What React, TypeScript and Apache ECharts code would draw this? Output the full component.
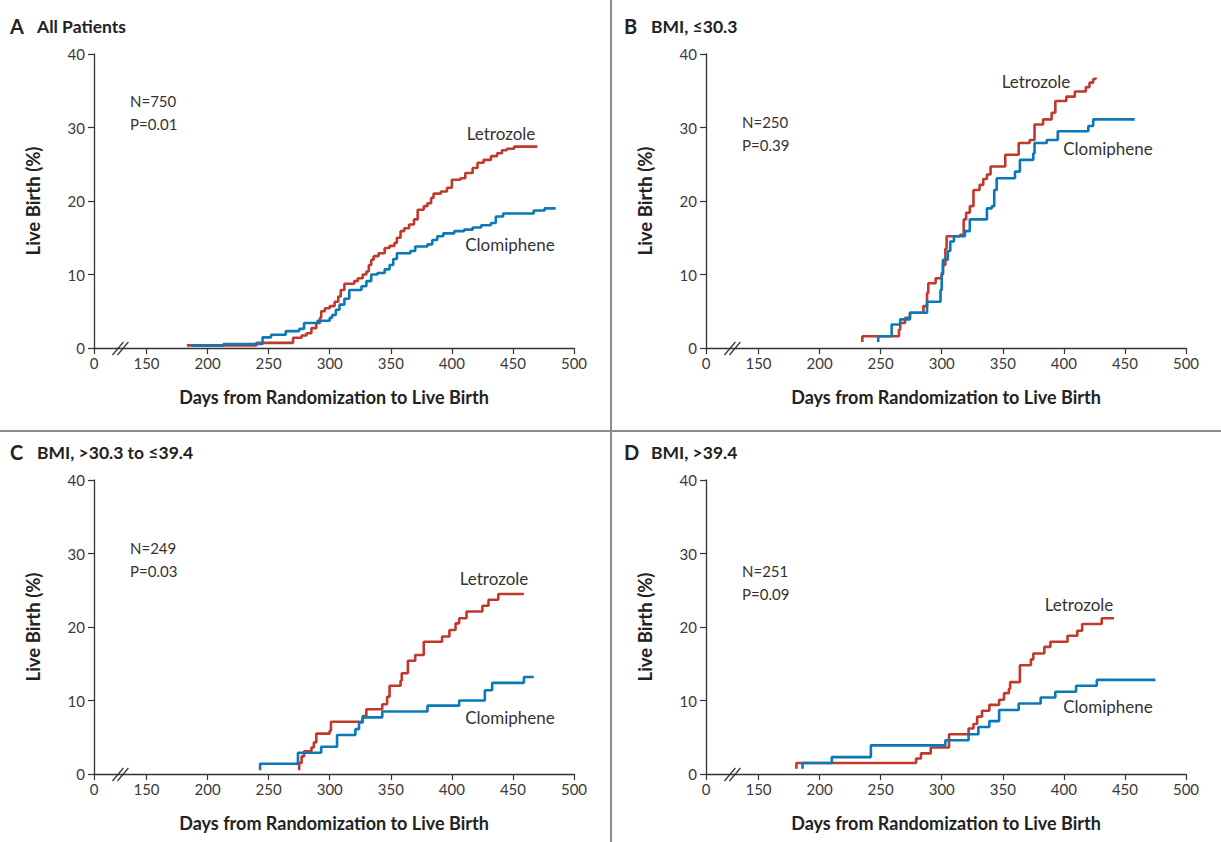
import React, { useEffect, useRef } from "react";
import * as echarts from "echarts";

// ---------- data ----------
const panelLetters = ["A", "B", "C", "D"];
const panelTitles = ["All Patients", "BMI, ≤30.3", "BMI, >30.3 to ≤39.4", "BMI, >39.4"];
const panelN = ["N=750", "N=250", "N=249", "N=251"];
const panelP = ["P=0.01", "P=0.39", "P=0.03", "P=0.09"];
const seriesNames = ["Letrozole", "Clomiphene"];
const xTickLabels = [0, 150, 200, 250, 300, 350, 400, 450, 500];
const yTickLabels = [0, 10, 20, 30, 40];
const xAxisTitle = "Days from Randomization to Live Birth";
const yAxisTitle = "Live Birth (%)";

// [day, cumulative live birth %] — value after the step at that day
const allLetrozole: [number, number][] = [
  [183, 0.36], [240, 0.7], [270, 1.4], [277, 1.7], [281, 2.0], [285, 2.7], [289, 3.4], [292, 4.1],
  [293, 5.0], [296, 5.4], [300, 5.7], [304, 6.3], [307, 7.0], [309, 7.9], [312, 8.75], [320, 9.1],
  [323, 9.5], [327, 10.0], [330, 10.4], [332, 11.3], [334, 12.0], [336, 12.5], [340, 12.9], [345, 13.6],
  [349, 13.9], [353, 14.3], [355, 15.0], [358, 15.9], [361, 16.3], [365, 16.8], [369, 17.5], [372, 18.8],
  [377, 19.3], [380, 19.7], [383, 20.4], [385, 21.0], [391, 21.3], [396, 21.8], [400, 22.9], [407, 23.1],
  [411, 23.8], [417, 24.5], [421, 25.2], [426, 25.6], [432, 26.1], [437, 26.5], [441, 26.9], [445, 27.1],
  [451, 27.4], [470, 27.4],
];
const allClomiphene: [number, number][] = [
  [187, 0.3], [213, 0.55], [245, 1.45], [252, 1.8], [264, 2.3], [275, 2.6], [279, 3.4], [290, 3.7],
  [300, 4.1], [302, 4.5], [305, 5.2], [308, 5.9], [312, 6.7], [316, 7.9], [326, 8.4], [330, 9.1],
  [334, 10.0], [339, 10.2], [345, 10.7], [349, 11.3], [352, 12.1], [355, 12.9], [366, 13.2], [370, 13.8],
  [380, 14.1], [384, 14.7], [388, 15.2], [393, 15.6], [402, 15.9], [410, 16.1], [417, 16.4], [424, 16.7],
  [432, 17.0], [436, 17.9], [442, 18.3], [467, 18.7], [476, 19.0], [485, 19.0],
];
const lowLetrozole: [number, number][] = [
  [235, 0.8], [235, 1.6], [265, 2.5], [266, 3.4], [270, 4.1], [274, 4.8], [285, 5.7], [288, 7.5],
  [289, 8.8], [295, 9.5], [300, 10.2], [301, 11.3], [303, 13.5], [304, 15.2], [315, 15.4], [318, 17.5],
  [320, 18.4], [323, 19.3], [326, 21.5], [331, 22.2], [334, 23.0], [337, 23.6], [340, 24.7], [352, 26.3],
  [363, 27.9], [372, 28.3], [376, 30.4], [383, 31.1], [390, 32.0], [393, 33.6], [402, 34.2], [409, 34.9],
  [418, 35.5], [421, 36.1], [424, 36.6], [426, 36.8],
];
const lowClomiphene: [number, number][] = [
  [248, 0.8], [248, 1.6], [259, 3.2], [266, 3.9], [274, 4.8], [288, 6.3], [299, 7.9], [300, 10.0],
  [301, 12.0], [305, 13.2], [307, 14.5], [310, 15.2], [319, 15.9], [323, 17.5], [337, 19.0], [341, 19.3],
  [343, 21.5], [345, 23.1], [360, 24.0], [364, 25.6], [375, 26.5], [376, 27.9], [386, 28.3], [395, 29.5],
  [420, 30.2], [424, 31.1], [458, 31.1],
];
const midLetrozole: [number, number][] = [
  [275, 0.5], [275, 1.5], [277, 2.4], [279, 3.1], [285, 3.6], [287, 4.3], [289, 5.5], [300, 5.9],
  [301, 7.1], [327, 7.9], [330, 8.8], [343, 9.5], [347, 10.5], [349, 12.0], [358, 12.7], [359, 13.7],
  [364, 15.4], [370, 16.2], [377, 18.0], [392, 18.7], [398, 19.6], [403, 20.5], [406, 21.2], [412, 22.1],
  [425, 22.9], [430, 23.7], [438, 24.5], [459, 24.5],
];
const midClomiphene: [number, number][] = [
  [243, 0.5], [243, 1.4], [274, 2.9], [293, 3.7], [306, 5.3], [321, 6.1], [324, 7.0], [327, 7.7],
  [343, 8.5], [380, 9.3], [406, 10.0], [427, 11.4], [433, 12.4], [459, 13.2], [467, 13.2],
];
const highLetrozole: [number, number][] = [
  [181, 0.7], [181, 1.5], [279, 2.1], [283, 2.8], [291, 3.6], [306, 5.4], [322, 6.2], [326, 6.8],
  [329, 7.8], [333, 8.6], [339, 9.4], [347, 10.1], [351, 11.0], [355, 11.6], [356, 12.5], [364, 14.8],
  [373, 15.6], [375, 16.4], [384, 17.3], [389, 18.0], [403, 18.8], [411, 19.5], [415, 20.4], [431, 21.2],
  [441, 21.2],
];
const highClomiphene: [number, number][] = [
  [186, 0.7], [186, 1.5], [210, 2.3], [242, 3.9], [303, 4.6], [322, 5.4], [330, 6.4], [339, 7.2],
  [347, 8.7], [363, 9.6], [381, 10.4], [393, 11.2], [410, 12.0], [427, 12.8], [475, 12.8],
];

const letrozoleSets = [allLetrozole, lowLetrozole, midLetrozole, highLetrozole];
const clomipheneSets = [allClomiphene, lowClomiphene, midClomiphene, highClomiphene];

// ---------- layout / style ----------
const X_ORIGIN = 107; // axis position where the broken axis shows "0"
const FONT = "Lato, 'Open Sans', sans-serif";
const RED = "#c0392b";
const BLUE = "#0b78b8";
const AXIS = "#333333";
const gridBoxes = [
  { left: 94, top: 54 },
  { left: 706, top: 54 },
  { left: 94, top: 480 },
  { left: 706, top: 480 },
];
const GRID_W = 480;
const GRID_H = 294;
// annotation placement (pixels)
const titlePos = [
  [10, 26], [624, 26], [10, 452], [624, 452],
];
const npPos = [
  [130, 101], [742, 122], [130, 548], [742, 571],
];
const letLabelPos = [
  [501, 133], [1036, 81], [494, 578], [1079, 604],
];
const cloLabelPos = [
  [510, 244], [1108, 148], [510, 717], [1108, 706],
];

export default function App() {
  const ref = useRef<HTMLDivElement>(null);
  useEffect(() => {
    document.body.style.margin = "0";
    if (!ref.current) return;
    const chart = echarts.init(ref.current, null, { renderer: "svg" });
    const tickPositions = xTickLabels.map((t) => (t === 0 ? X_ORIGIN : t));

    const grids = gridBoxes.map((g) => ({ left: g.left, top: g.top, width: GRID_W, height: GRID_H }));
    const xAxes = gridBoxes.map((_, i) => ({
      gridIndex: i,
      type: "value",
      min: X_ORIGIN,
      max: 500,
      axisLine: { show: true, onZero: false, lineStyle: { color: AXIS, width: 1.3 } },
      axisTick: { show: true, length: 6, customValues: tickPositions, lineStyle: { color: AXIS, width: 1.2 } },
      axisLabel: {
        customValues: tickPositions,
        formatter: (v: number) => (Math.abs(v - X_ORIGIN) < 0.01 ? "0" : String(v)),
        color: "#3a3a3a",
        fontSize: 15,
        fontFamily: FONT,
        margin: 7,
      },
      splitLine: { show: false },
      name: xAxisTitle,
      nameLocation: "middle",
      nameGap: 40,
      nameTextStyle: { fontWeight: "bold", fontSize: 18, color: "#222", fontFamily: FONT },
    }));
    const yAxes = gridBoxes.map((_, i) => ({
      gridIndex: i,
      type: "value",
      min: yTickLabels[0],
      max: yTickLabels[yTickLabels.length - 1],
      interval: 10,
      axisLine: { show: true, onZero: false, lineStyle: { color: AXIS, width: 1.3 } },
      axisTick: { show: true, length: 6, lineStyle: { color: AXIS, width: 1.2 } },
      axisLabel: { color: "#3a3a3a", fontSize: 15, fontFamily: FONT, margin: 9 },
      splitLine: { show: false },
      name: yAxisTitle,
      nameLocation: "middle",
      nameGap: 52,
      nameRotate: 90,
      nameTextStyle: { fontWeight: "bold", fontSize: 18.5, color: "#222", fontFamily: FONT },
    }));
    const series: any[] = [];
    gridBoxes.forEach((_, i) => {
      [letrozoleSets[i], clomipheneSets[i]].forEach((data, k) => {
        series.push({
          type: "line",
          name: seriesNames[k],
          xAxisIndex: i,
          yAxisIndex: i,
          step: "end",
          showSymbol: false,
          symbol: "none",
          data,
          lineStyle: { width: 2.6, color: k === 0 ? RED : BLUE },
          z: k === 0 ? 3 : 4,
        });
      });
    });

    chart.setOption({
      animation: false,
      backgroundColor: "#ffffff",
      grid: grids,
      xAxis: xAxes,
      yAxis: yAxes,
      series,
    });

    const graphics: any[] = [];
    // panel dividers
    graphics.push({ type: "line", shape: { x1: 611, y1: 0, x2: 611, y2: 842 }, style: { stroke: "#8c8c8c", lineWidth: 2 } });
    graphics.push({ type: "line", shape: { x1: 0, y1: 431, x2: 1221, y2: 431 }, style: { stroke: "#8c8c8c", lineWidth: 2 } });
    gridBoxes.forEach((_, i) => {
      // titles
      graphics.push({
        type: "text", x: titlePos[i][0], y: titlePos[i][1],
        style: { text: panelLetters[i], fill: "#222", fontSize: 20, fontWeight: "bold", fontFamily: FONT, verticalAlign: "middle" },
      });
      graphics.push({
        type: "text", x: titlePos[i][0] + 27, y: titlePos[i][1],
        style: { text: panelTitles[i], fill: "#222", fontSize: 17.5, fontWeight: "bold", fontFamily: FONT, verticalAlign: "middle" },
      });
      graphics.push({
        type: "text", x: npPos[i][0], y: npPos[i][1],
        style: { text: panelN[i], fill: "#333", fontSize: 15, fontFamily: FONT, verticalAlign: "middle" },
      });
      graphics.push({
        type: "text", x: npPos[i][0], y: npPos[i][1] + 23,
        style: { text: panelP[i], fill: "#333", fontSize: 15, fontFamily: FONT, verticalAlign: "middle" },
      });
      graphics.push({
        type: "text", x: letLabelPos[i][0], y: letLabelPos[i][1],
        style: { text: seriesNames[0], fill: "#333", fontSize: 17, fontFamily: FONT, align: "center", verticalAlign: "middle" },
      });
      graphics.push({
        type: "text", x: cloLabelPos[i][0], y: cloLabelPos[i][1],
        style: { text: seriesNames[1], fill: "#333", fontSize: 17, fontFamily: FONT, align: "center", verticalAlign: "middle" },
      });
      // axis break marks "//"
      const p = chart.convertToPixel({ gridIndex: i } as any, [X_ORIGIN + 20, 0]) as number[];
      [0, 5].forEach((dx) => {
        graphics.push({
          type: "line",
          shape: { x1: p[0] - 6 + dx, y1: p[1] + 7, x2: p[0] + 5 + dx, y2: p[1] - 6 },
          style: { stroke: AXIS, lineWidth: 1.2 },
          z: 10,
        });
      });
    });
    chart.setOption({ graphic: graphics });

    return () => chart.dispose();
  }, []);
  return <div ref={ref} style={{ position: "absolute", left: 0, top: 0, width: 1221, height: 842 }} />;
}
